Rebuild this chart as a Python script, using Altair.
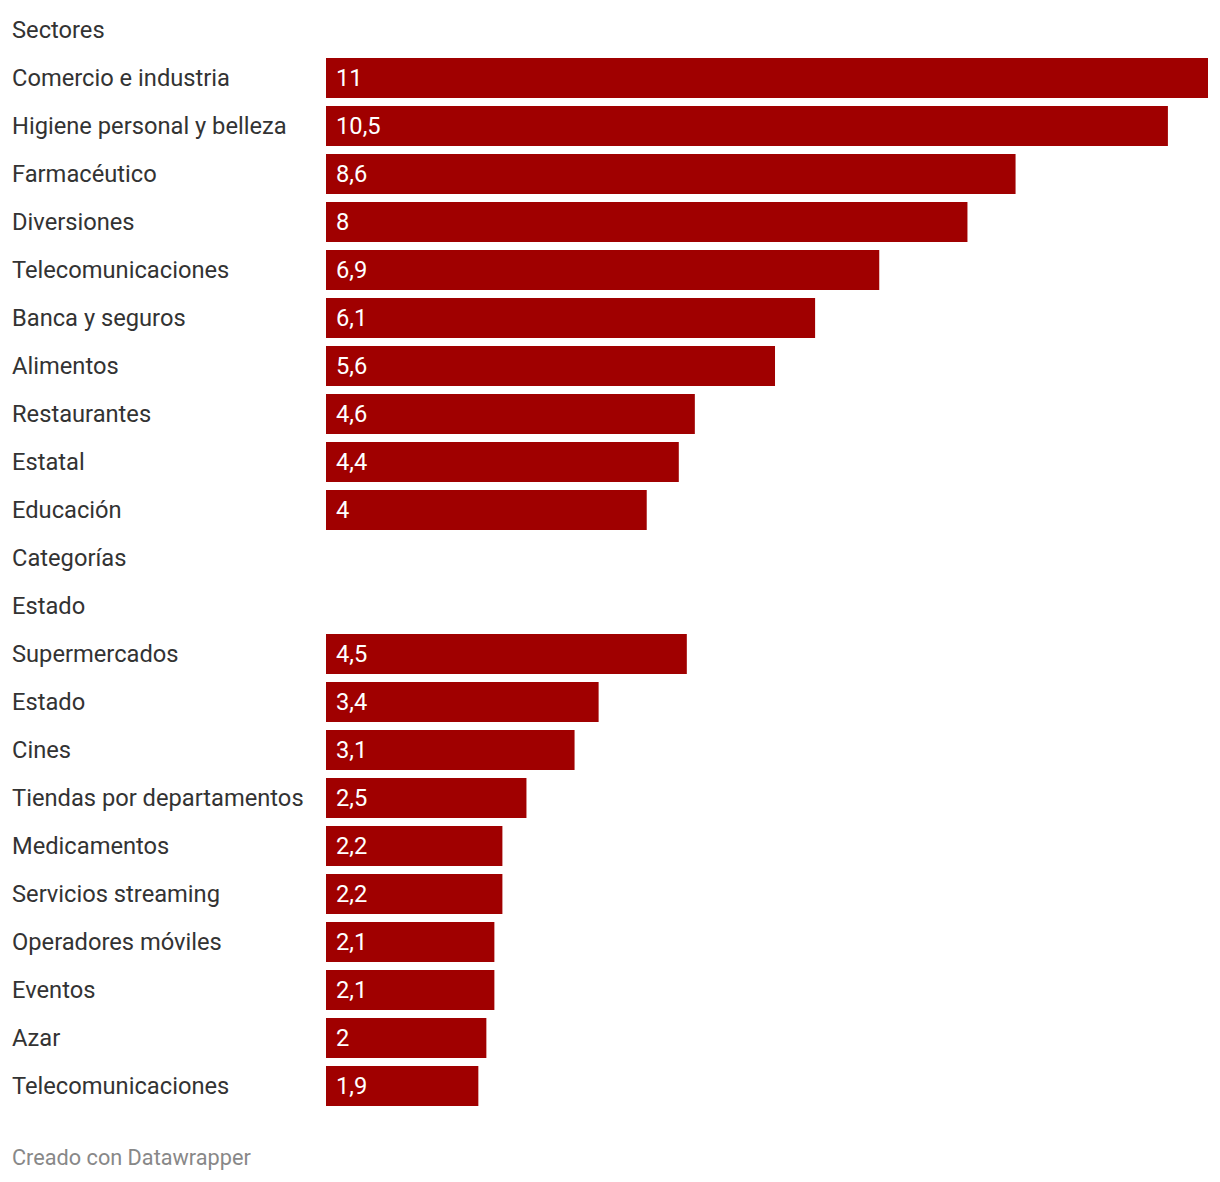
import altair as alt
import pandas as pd

labels = [
    "Sectores", "Comercio e industria", "Higiene personal y belleza", "Farmacéutico",
    "Diversiones", "Telecomunicaciones", "Banca y seguros", "Alimentos",
    "Restaurantes", "Estatal", "Educación", "Categorías", "Estado",
    "Supermercados", "Estado", "Cines", "Tiendas por departamentos",
    "Medicamentos", "Servicios streaming", "Operadores móviles", "Eventos",
    "Azar", "Telecomunicaciones",
]
values = [
    None, 11, 10.5, 8.6, 8, 6.9, 6.1, 5.6, 4.6, 4.4, 4, None, None,
    4.5, 3.4, 3.1, 2.5, 2.2, 2.2, 2.1, 2.1, 2, 1.9,
]


def fmt(v):
    if v is None:
        return ""
    s = ("%g" % v)
    return s.replace(".", ",")


df = pd.DataFrame({
    "row": list(range(len(labels))),
    "label": labels,
    "value": values,
    "text": [fmt(v) for v in values],
})

footer = pd.DataFrame({"t": ["Creado con Datawrapper"]})

FONT = "Roboto"
BAR = "#a00000"

y_enc = alt.Y("row:O", sort="ascending", axis=None,
              scale=alt.Scale(paddingInner=8 / 48, paddingOuter=4 / 48))

base = alt.Chart(df)

bars = base.transform_filter("datum.value != null").mark_bar(
    color=BAR, yOffset=-2
).encode(
    x=alt.X("value:Q", axis=None, scale=alt.Scale(domain=[0, 11], nice=False, zero=True)),
    y=y_enc,
)

vals = base.transform_filter("datum.value != null").mark_text(
    align="left", baseline="middle", dx=10, dy=1, yOffset=-2,
    font=FONT, fontSize=23.7, color="white"
).encode(
    x=alt.value(0),
    y=y_enc,
    text="text:N",
)

labs = base.mark_text(
    align="left", baseline="middle", dx=-314, dy=1, yOffset=-2,
    font=FONT, fontSize=23.7, color="#333333"
).encode(
    x=alt.value(0),
    y=y_enc,
    text="label:N",
)

foot = alt.Chart(footer).mark_text(
    align="left", baseline="middle", dx=-314,
    font=FONT, fontSize=21.7, color="#888888"
).encode(
    x=alt.value(0),
    y=alt.value(1150),
    text="t:N",
)

chart = alt.layer(bars, vals, labs, foot).properties(
    width=882,
    height=1104,
    autosize=alt.AutoSizeParams(type="none"),
    padding={"left": 318, "top": 0, "right": 0, "bottom": 60},
    background="white",
).configure_view(stroke=None)

chart.save("out.html", embed_options={"renderer": "svg", "actions": False})
